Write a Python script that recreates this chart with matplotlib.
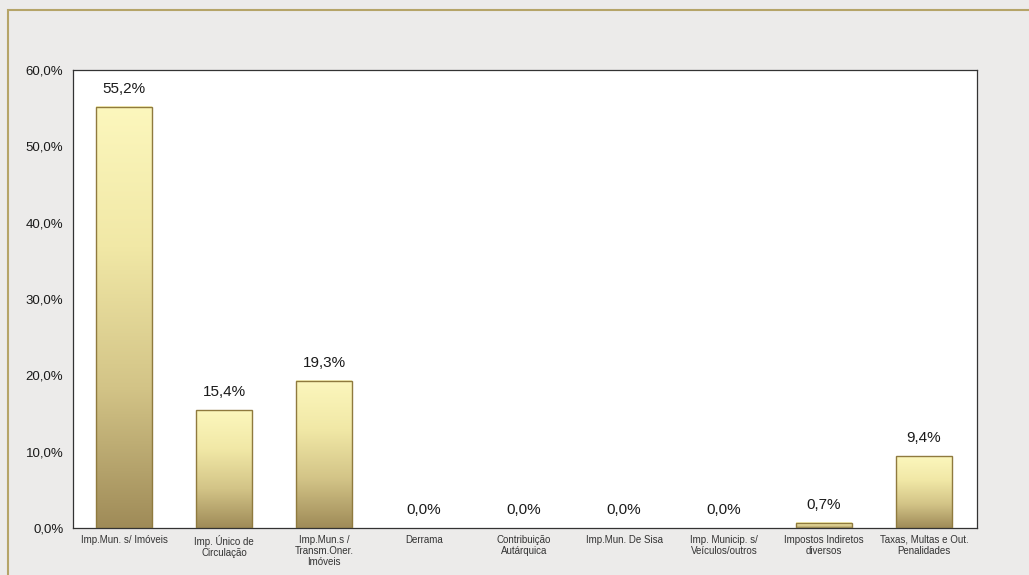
import numpy as np
import matplotlib.pyplot as plt
from matplotlib.patches import Rectangle
from matplotlib.colors import LinearSegmentedColormap

plt.rcParams['font.family'] = ['Liberation Sans', 'DejaVu Sans']

categories = [
    'Imp.Mun. s/ Imóveis',
    'Imp. Único de\nCirculação',
    'Imp.Mun.s /\nTransm.Oner.\nImóveis',
    'Derrama',
    'Contribuição\nAutárquica',
    'Imp.Mun. De Sisa',
    'Imp. Municip. s/\nVeículos/outros',
    'Impostos Indiretos\ndiversos',
    'Taxas, Multas e Out.\nPenalidades',
]
values = [55.2, 15.4, 19.3, 0.0, 0.0, 0.0, 0.0, 0.7, 9.4]
yticks = [0, 10, 20, 30, 40, 50, 60]

fig = plt.figure(figsize=(10.29, 5.75), dpi=100)
fig.patch.set_facecolor('#ecebea')
# thin tan frame around the chart area
fig.add_artist(Rectangle((8 / 1029, -0.01), 1.02, 1 - 10 / 575 + 0.01,
                         transform=fig.transFigure, fill=False,
                         edgecolor='#b5a468', linewidth=1.5))

ax = fig.add_axes([73 / 1029, 47 / 575, 904 / 1029, 458 / 575])
ax.set_facecolor('white')

cmap = LinearSegmentedColormap.from_list(
    'gold', ['#9f8b58', '#d3c487', '#f1e8a6', '#fcf7bd'])
grad = np.linspace(0, 1, 256).reshape(-1, 1)

x = np.arange(len(categories))
width = 0.56
edges = ['#8f7a3e' if v > 0 else 'none' for v in values]
bars = ax.bar(x, values, width=width, color='none',
              edgecolor=edges, linewidth=1.0, zorder=3)
for b in bars:
    h = b.get_height()
    if h <= 0:
        continue
    x0 = b.get_x()
    ax.imshow(grad, cmap=cmap, aspect='auto', origin='lower',
              extent=(x0, x0 + b.get_width(), 0, h), zorder=2,
              interpolation='bilinear')

for xi, v in zip(x, values):
    ax.annotate(f'{v:.1f}%'.replace('.', ','), (xi, v),
                xytext=(0, 8), textcoords='offset points',
                ha='center', va='bottom', fontsize=11, color='#1a1a1a')

ax.set_xlim(-0.51, 8.53)
ax.set_ylim(0, 60)
ax.set_yticks(yticks)
ax.set_yticklabels([f'{t:.1f}%'.replace('.', ',') for t in yticks],
                   fontsize=9.5, color='#1a1a1a')
ax.set_xticks(x)
ax.set_xticklabels(categories, fontsize=7, color='#333333', linespacing=1.1)
ax.tick_params(axis='both', length=0, pad=7)
ax.tick_params(axis='x', pad=5)
for s in ax.spines.values():
    s.set_color('#333333')
    s.set_linewidth(0.9)

fig.savefig('out.png', dpi=100, facecolor=fig.get_facecolor())
